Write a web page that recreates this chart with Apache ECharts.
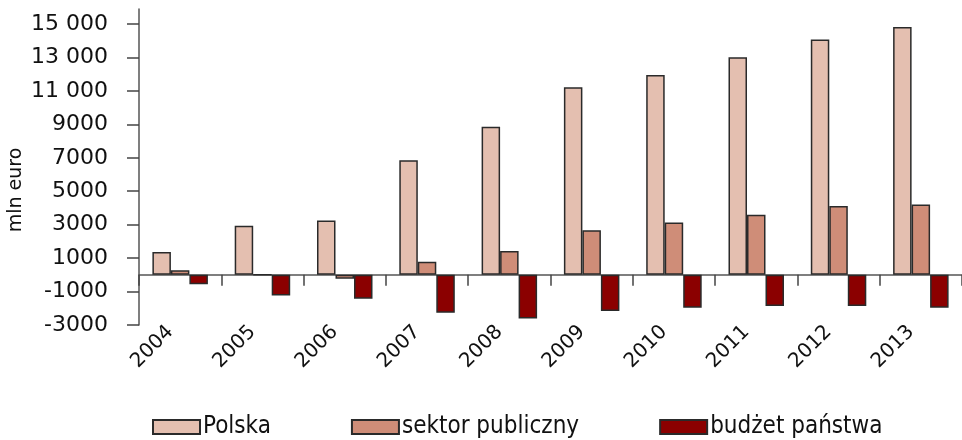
<!DOCTYPE html>
<html>
<head>
<meta charset="utf-8">
<script src="https://cdn.jsdelivr.net/npm/echarts@6/dist/echarts.min.js"></script>
<style>
  html, body { margin: 0; padding: 0; background: #fff; }
  #chart { width: 962px; height: 440px; }
</style>
</head>
<body>
<div id="chart"></div>
<script>
// Years on the category axis
const years = ['2004', '2005', '2006', '2007', '2008', '2009', '2010', '2011', '2012', '2013'];

// Values in mln euro
const polska = [1360, 2930, 3250, 6860, 8860, 11220, 11960, 13020, 14080, 14820];
const sektorPubliczny = [270, 0, -230, 790, 1430, 2670, 3130, 3590, 4110, 4210];
const budzetPanstwa = [-570, -1230, -1430, -2270, -2610, -2170, -1970, -1870, -1870, -1970];

// Value-axis tick labels
const yTicks = [-3000, -1000, 1000, 3000, 5000, 7000, 9000, 11000, 13000, 15000];

const seriesNames = ['Polska', 'sektor publiczny', 'budżet państwa'];
const seriesColors = ['#e4bfb0', '#cf8d78', '#8b0000'];
const seriesData = [polska, sektorPubliczny, budzetPanstwa];

const axisFont = 'DejaVu Sans';

function formatThousands(v) {
  const abs = Math.abs(v);
  let s = String(abs);
  if (abs >= 10000) {
    s = s.replace(/\B(?=(\d{3})+(?!\d))/g, ' ');
  }
  return (v < 0 ? '-' : '') + s;
}

const chart = echarts.init(document.getElementById('chart'), null, { renderer: 'canvas' });

chart.setOption({
  animation: false,
  backgroundColor: '#ffffff',
  grid: { left: 139, right: 0, top: 9, bottom: 115, containLabel: false, outerBoundsMode: 'none' },
  legend: {
    left: 152,
    top: 415,
    padding: 0,
    icon: 'rect',
    itemWidth: 47,
    itemHeight: 14,
    itemGap: 80,
    data: seriesNames,
    textStyle: { fontFamily: 'DejaVu Sans Condensed, DejaVu Sans', fontSize: 24, color: '#111', padding: [0, 0, 0, -2] }
  },
  xAxis: {
    type: 'category',
    data: years,
    axisLine: { onZero: true, lineStyle: { color: '#555', width: 1.5 } },
    axisTick: { show: true, length: 11, lineStyle: { color: '#444', width: 1.5 } },
    axisLabel: {
      rotate: 45,
      margin: -6,
      padding: [0, 14, 27, 0],
      fontFamily: axisFont,
      fontSize: 20,
      color: '#111',
      interval: 0
    },
    splitLine: { show: false }
  },
  yAxis: {
    type: 'value',
    min: -3000,
    max: 15900,
    name: 'mln euro',
    nameLocation: 'middle',
    nameGap: 113,
    nameMoveOverlap: false,
    nameTextStyle: { fontFamily: axisFont, fontSize: 19, color: '#111', padding: [0, 46, 0, 0] },
    axisLine: { show: true, lineStyle: { color: '#555', width: 1.5 } },
    axisTick: { show: true, length: 12, customValues: yTicks, lineStyle: { color: '#444', width: 1.5 } },
    axisLabel: {
      customValues: yTicks,
      margin: 31,
      fontFamily: axisFont,
      fontSize: 22,
      color: '#111',
      formatter: formatThousands
    },
    splitLine: { show: false }
  },
  series: seriesData.map((data, i) => ({
    name: seriesNames[i],
    type: 'bar',
    data: data,
    barWidth: 18.5,
    barGap: '0%',
    itemStyle: { color: seriesColors[i], borderColor: '#2a2a2a', borderWidth: 1.5 }
  }))
});
</script>
</body>
</html>
